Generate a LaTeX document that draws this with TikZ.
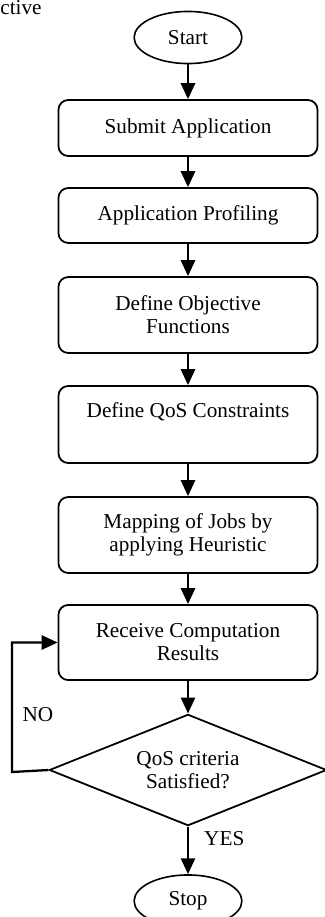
\documentclass[tikz,border=0pt]{standalone}
\usepackage{fontspec}
\setmainfont{Liberation Serif}
\usepackage{tikz}
\usetikzlibrary{
  shapes.geometric       % ellipse and diamond nodes
}
\usetikzlibrary{arrows.meta}

\begin{document}
\begin{tikzpicture}[x=0.566pt, y=-0.566pt,
    font=\fontsize{12pt}{13pt}\selectfont,
    procbox/.style={draw, line width=1pt, rounded corners=5.5pt, align=center,
      minimum width=146.6pt, inner sep=0pt},
    termbox/.style={draw, ellipse, line width=0.9pt, minimum width=61pt,
      minimum height=29.5pt, inner sep=0pt},
    decbox/.style={draw, diamond, line width=1pt, align=center, aspect=2.5,
      minimum width=157pt, minimum height=63pt, inner sep=0pt},
    flow/.style={-{Triangle[width=8pt, length=9pt]}, line width=1.3pt}]
        \useasboundingbox (0,0) rectangle (325,917);

        % Cut-off word at the top left
        \node[anchor=base west, inner sep=0pt] (cut) at (0,14) {ctive};

        % Start and steps
        \node[termbox] (start) at (188,37.5) {Start};
        \node[procbox, minimum height=31.7pt] (submit) at (188,128) {Submit Application};
        \node[procbox, minimum height=31.1pt] (profile) at (188,215.5) {Application Profiling};
        \node[procbox, minimum height=43pt] (objfun) at (188,315) {Define Objective\\Functions};
        \node[procbox, minimum height=43.6pt] (qoscon) at (188,424.5) {Define QoS Constraints\\\strut};
        \node[procbox, minimum height=43pt] (mapjobs) at (188,535) {Mapping of Jobs by\\applying Heuristic};
        \node[procbox, minimum height=42.5pt] (receive) at (188,642.5) {Receive Computation\\Results};

        % Decision and stop
        \node[decbox] (check) at (188,770) {QoS criteria\\Satisfied?};
        \node[termbox] (stop) at (188,901) {Stop};

        % Arrows down the flow
        \draw[flow] (start) -- (submit);
        \draw[flow] (submit) -- (profile);
        \draw[flow] (profile) -- (objfun);
        \draw[flow] (objfun) -- (qoscon);
        \draw[flow] (qoscon) -- (mapjobs);
        \draw[flow] (mapjobs) -- (receive);
        \draw[flow] (receive) -- (check);
        \draw[flow] (check) -- (stop);

        % Loop back when not satisfied
        \coordinate (back) at (12,772);
        \draw[flow] (check.west) -- (back) |- (receive.west);

        % Branch labels
        \node (no) at (38,715) {NO};
        \node[anchor=west] (yes) at (198,839) {YES};

    \end{tikzpicture}
\end{document}
